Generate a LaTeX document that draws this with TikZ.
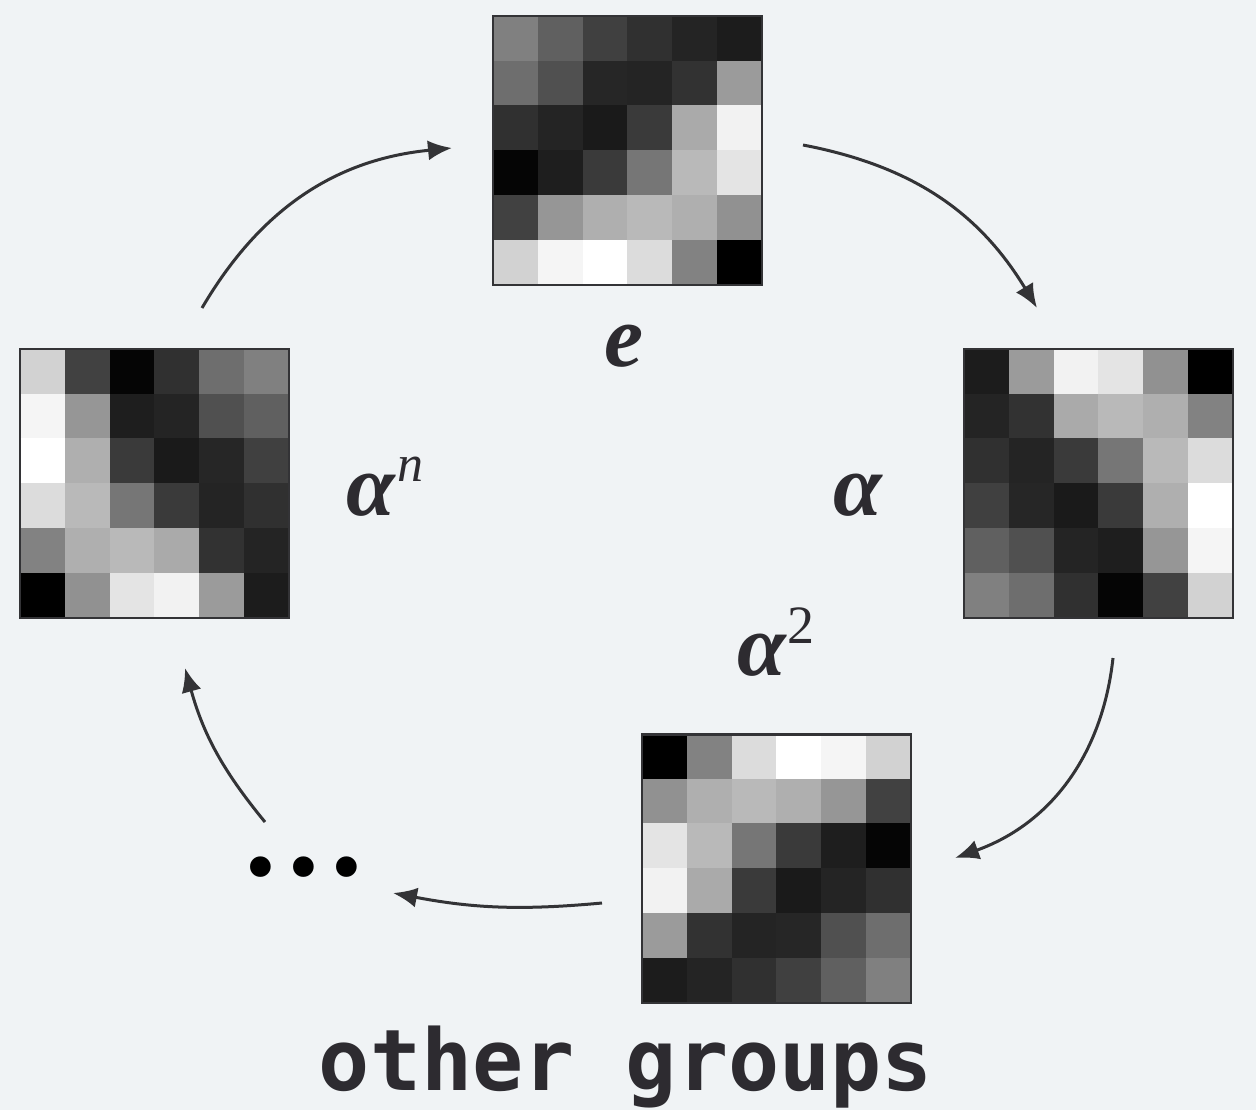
\documentclass[tikz,border=0pt]{standalone}
\usepackage{fontspec}
\setmainfont{Liberation Serif}
\newfontfamily\monof{DejaVu Sans Mono}
\usetikzlibrary{arrows.meta,calc}
\definecolor{bgc}{HTML}{F0F3F5}
\definecolor{inkc}{HTML}{2D2B30}
\definecolor{arrc}{HTML}{333336}
\newcommand\pixgrid[2]{%
  \foreach \v [count=\k from 0] in {#2} {%
    \pgfmathtruncatemacro\cc{mod(\k,6)}%
    \pgfmathtruncatemacro\rr{div(\k,6)}%
    \fill[fill={rgb,255:red,\v;green,\v;blue,\v}]
      ($(#1)+({\cc*44.8},{(5-\rr)*44.8})$) rectangle +(45.2,45.2);
  }%
}
\begin{document}
\begin{tikzpicture}[x=0.5pt,y=0.5pt,
  gridbox/.style={draw=arrc,line width=1.3pt,inner sep=0pt,outer sep=0pt,
    minimum width=134.4pt,minimum height=134.4pt,anchor=south west},
  cyc/.style={draw=arrc,line width=1.5pt,-{Latex[length=12pt,width=10pt]}},
  mathlab/.style={text=inkc,font=\fontsize{44}{44}\selectfont\bfseries\itshape,inner sep=0pt,anchor=base},
  monolab/.style={text=inkc,font=\monof\bfseries\fontsize{42.5}{42.5}\selectfont,inner sep=0pt,anchor=base}]
\fill[bgc] (0,0) rectangle (1256,1110);
\useasboundingbox (0,0) rectangle (1256,1110);
% grid corners
\coordinate (tsw) at (493,825);
\coordinate (rsw) at (964,492);
\coordinate (bsw) at (642,107);
\coordinate (lsw) at (20,492);
\pixgrid{tsw}{128,96,64,48,36,28, 110,80,38,36,50,155, 48,36,26,58,170,242, 5,30,58,118,185,228, 65,150,175,185,175,145, 210,245,255,220,130,0}
\pixgrid{rsw}{28,155,242,228,145,0, 36,50,170,185,175,130, 48,36,58,118,185,220, 64,38,26,58,175,255, 96,80,36,30,150,245, 128,110,48,5,65,210}
\pixgrid{bsw}{0,130,220,255,245,210, 145,175,185,175,150,65, 228,185,118,58,30,5, 242,170,58,26,36,48, 155,50,36,38,80,110, 28,36,48,64,96,128}
\pixgrid{lsw}{210,65,5,48,110,128, 245,150,30,36,80,96, 255,175,58,26,38,64, 220,185,118,58,36,48, 130,175,185,170,50,36, 0,145,228,242,155,28}
\node[gridbox] (gtop) at (tsw) {};
\node[gridbox] (gright) at (rsw) {};
\node[gridbox] (gbottom) at (bsw) {};
\node[gridbox] (gleft) at (lsw) {};
% labels
\node[mathlab] (le) at (624,743) {e};
\node[mathlab] (lan) at (385,595) {α\kern1pt\raisebox{17pt}{\fontsize{26}{26}\selectfont\mdseries\itshape n}};
\node[mathlab] (la) at (858,595) {α};
\node[mathlab] (la2) at (776,435) {α\kern1pt\raisebox{16pt}{\fontsize{27}{27}\selectfont\mdseries\upshape 2}};
\node[monolab] (other) at (626,20) {other groups};
\node[text=black,font=\monof\fontsize{35.5}{35.5}\selectfont,inner sep=0pt,anchor=base] (dots) at (304,217) {•••};
% arrow ends
\coordinate (a1s) at (202,802); \coordinate (a1e) at (452,962);
\coordinate (a2s) at (803,965); \coordinate (a2e) at (1037,802);
\coordinate (a3s) at (1113,452); \coordinate (a3e) at (955,252);
\coordinate (a4s) at (602,207); \coordinate (a4e) at (393,217);
\coordinate (a5s) at (265,288); \coordinate (a5e) at (185,442);
\draw[cyc] (a1s) to[bend left=27] (a1e);
\draw[cyc] (a2s) to[bend left=24] (a2e);
\draw[cyc] (a3s) to[bend left=32] (a3e);
\draw[cyc] (a4s) to[bend left=8] (a4e);
\draw[cyc] (a5s) to[bend left=12] (a5e);
\end{tikzpicture}
\end{document}
